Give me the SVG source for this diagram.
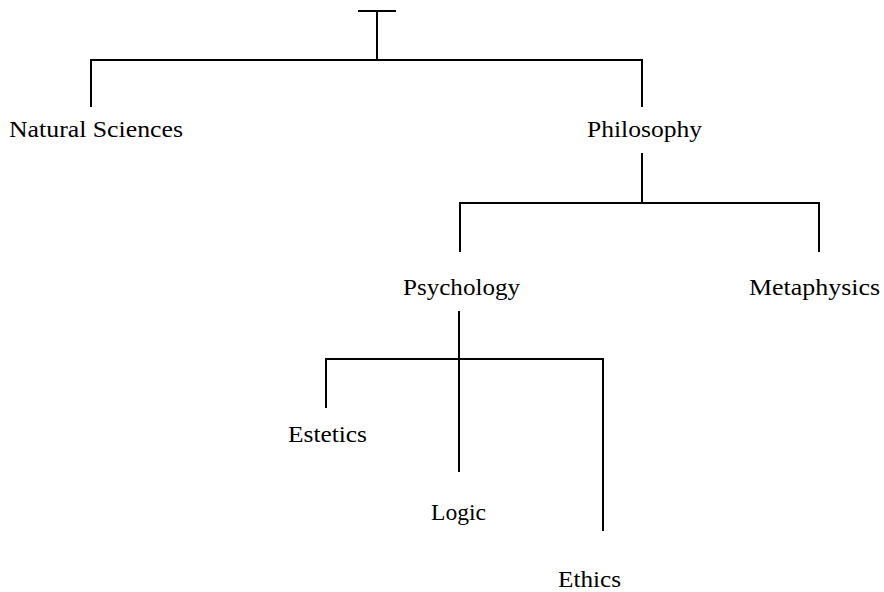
<svg xmlns="http://www.w3.org/2000/svg" width="884" height="592" viewBox="0 0 884 592">
<style>
.c{fill:none;stroke:#000;stroke-width:2;stroke-linecap:butt}
.t{font-family:"Liberation Serif","Times New Roman",serif;font-size:24px;fill:#000}
</style>
<rect width="884" height="592" fill="#fff"/>
<g id="connectors">
<path class="c" d="M358 11H396M377 11V60M90 60H643M91 60V107M642 60V107"/>
<path class="c" d="M642 153V203M459 203H820M460 203V252M819 203V252"/>
<path class="c" d="M459 311V472M325 359H604M326 359V408M603 359V531"/>
</g>
<g id="natural-sciences"><text class="t" x="9" y="137" textLength="174" lengthAdjust="spacingAndGlyphs">Natural Sciences</text></g>
<g id="philosophy"><text class="t" x="587" y="137" textLength="115" lengthAdjust="spacingAndGlyphs">Philosophy</text></g>
<g id="psychology"><text class="t" x="403" y="295" textLength="117" lengthAdjust="spacingAndGlyphs">Psychology</text></g>
<g id="metaphysics"><text class="t" x="749" y="295" textLength="131" lengthAdjust="spacingAndGlyphs">Metaphysics</text></g>
<g id="estetics"><text class="t" x="288" y="442" textLength="79" lengthAdjust="spacingAndGlyphs">Estetics</text></g>
<g id="logic"><text class="t" x="431" y="520" textLength="55" lengthAdjust="spacingAndGlyphs">Logic</text></g>
<g id="ethics"><text class="t" x="558" y="587" textLength="63" lengthAdjust="spacingAndGlyphs">Ethics</text></g>
</svg>
